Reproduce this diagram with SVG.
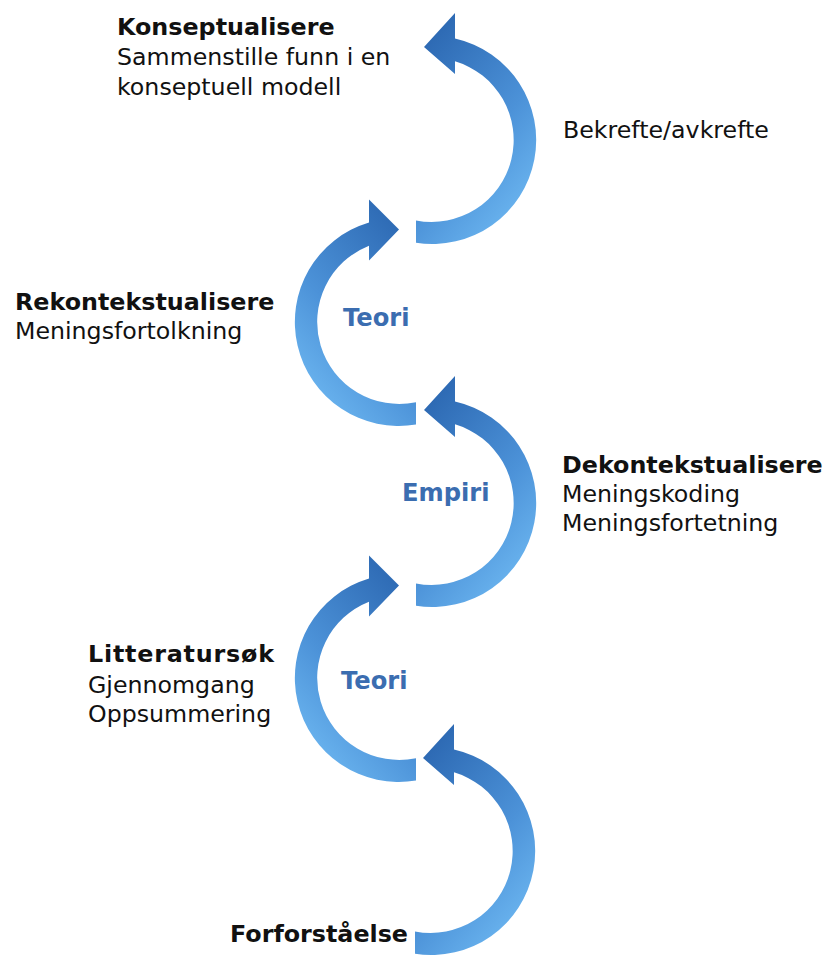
<svg xmlns="http://www.w3.org/2000/svg" width="825" height="956" viewBox="0 0 825 956">
  <style>
    text { font-family: Verdana, "DejaVu Sans", sans-serif; font-size: 23.7px; fill: #111; }
    .title { font-weight: bold; font-size: 23.8px; }
    .flow { font-weight: bold; font-size: 24.2px; fill: #3b6db0; }
  </style>
  <defs>
    <!-- right-bulging arcs: dark at the head (top-left), light towards the lower right -->
    <linearGradient id="gradRight" x1="0.25" y1="0" x2="0.85" y2="1">
      <stop offset="0" stop-color="#2c68b2"/>
      <stop offset="0.55" stop-color="#4c92d8"/>
      <stop offset="1" stop-color="#72bdf5"/>
    </linearGradient>
    <!-- left-bulging arcs: dark at the head (top-right), light towards the lower left -->
    <linearGradient id="gradLeft" x1="0.75" y1="0" x2="0.15" y2="1">
      <stop offset="0" stop-color="#2c68b2"/>
      <stop offset="0.55" stop-color="#4c92d8"/>
      <stop offset="1" stop-color="#72bdf5"/>
    </linearGradient>
  </defs>

  <rect width="825" height="956" fill="#ffffff"/>

  <!-- curved arrows -->
  <g id="connectors">
    <path id="arc-forforstaelse" fill="url(#gradRight)" d="M 415 953.8 A 104 104 0 0 0 454 749.6 L 454 724 L 423 758 L 454 785 L 454 772.3 A 82 82 0 0 1 415 931.4 Z"/>
    <path id="arc-teori-lower" fill="url(#gradLeft)" d="M 416 780.6 A 104 104 0 0 1 369 578.4 L 369 555.6 L 399 585.6 L 369 616.6 L 369 601.7 A 82 82 0 0 0 416 758.2 Z"/>
    <path id="arc-empiri" fill="url(#gradRight)" d="M 416 605.8 A 104 104 0 0 0 455 401.6 L 455 376 L 424 410 L 455 437 L 455 424.3 A 82 82 0 0 1 416 583.4 Z"/>
    <path id="arc-teori-upper" fill="url(#gradLeft)" d="M 416 424.6 A 104 104 0 0 1 369 222.4 L 369 199.6 L 399 229.6 L 369 260.6 L 369 245.7 A 82 82 0 0 0 416 402.2 Z"/>
    <path id="arc-bekrefte" fill="url(#gradRight)" d="M 416 242.8 A 104 104 0 0 0 455 38.6 L 455 13 L 424 47 L 455 74 L 455 61.3 A 82 82 0 0 1 416 220.4 Z"/>
  </g>

  <g id="konseptualisere">
    <text class="title" x="117" y="35">Konseptualisere</text>
    <text x="117" y="65">Sammenstille funn i en</text>
    <text x="117" y="95">konseptuell modell</text>
  </g>

  <g id="bekrefte">
    <text x="563" y="138">Bekrefte/avkrefte</text>
  </g>

  <g id="rekontekstualisere">
    <text class="title" x="15" y="310">Rekontekstualisere</text>
    <text x="15" y="339">Meningsfortolkning</text>
  </g>

  <g id="teori-upper">
    <text class="flow" x="343" y="326">Teori</text>
  </g>

  <g id="dekontekstualisere">
    <text class="title" x="562" y="473">Dekontekstualisere</text>
    <text x="562" y="502">Meningskoding</text>
    <text x="562" y="531">Meningsfortetning</text>
  </g>

  <g id="empiri">
    <text class="flow" x="402" y="501">Empiri</text>
  </g>

  <g id="litteratursok">
    <text class="title" x="88" y="662" textLength="186" lengthAdjust="spacing">Litteratursøk</text>
    <text x="88" y="693">Gjennomgang</text>
    <text x="88" y="722">Oppsummering</text>
  </g>

  <g id="teori-lower">
    <text class="flow" x="341" y="689">Teori</text>
  </g>

  <g id="forforstaelse">
    <text class="title" x="230" y="942">Forforståelse</text>
  </g>
</svg>
